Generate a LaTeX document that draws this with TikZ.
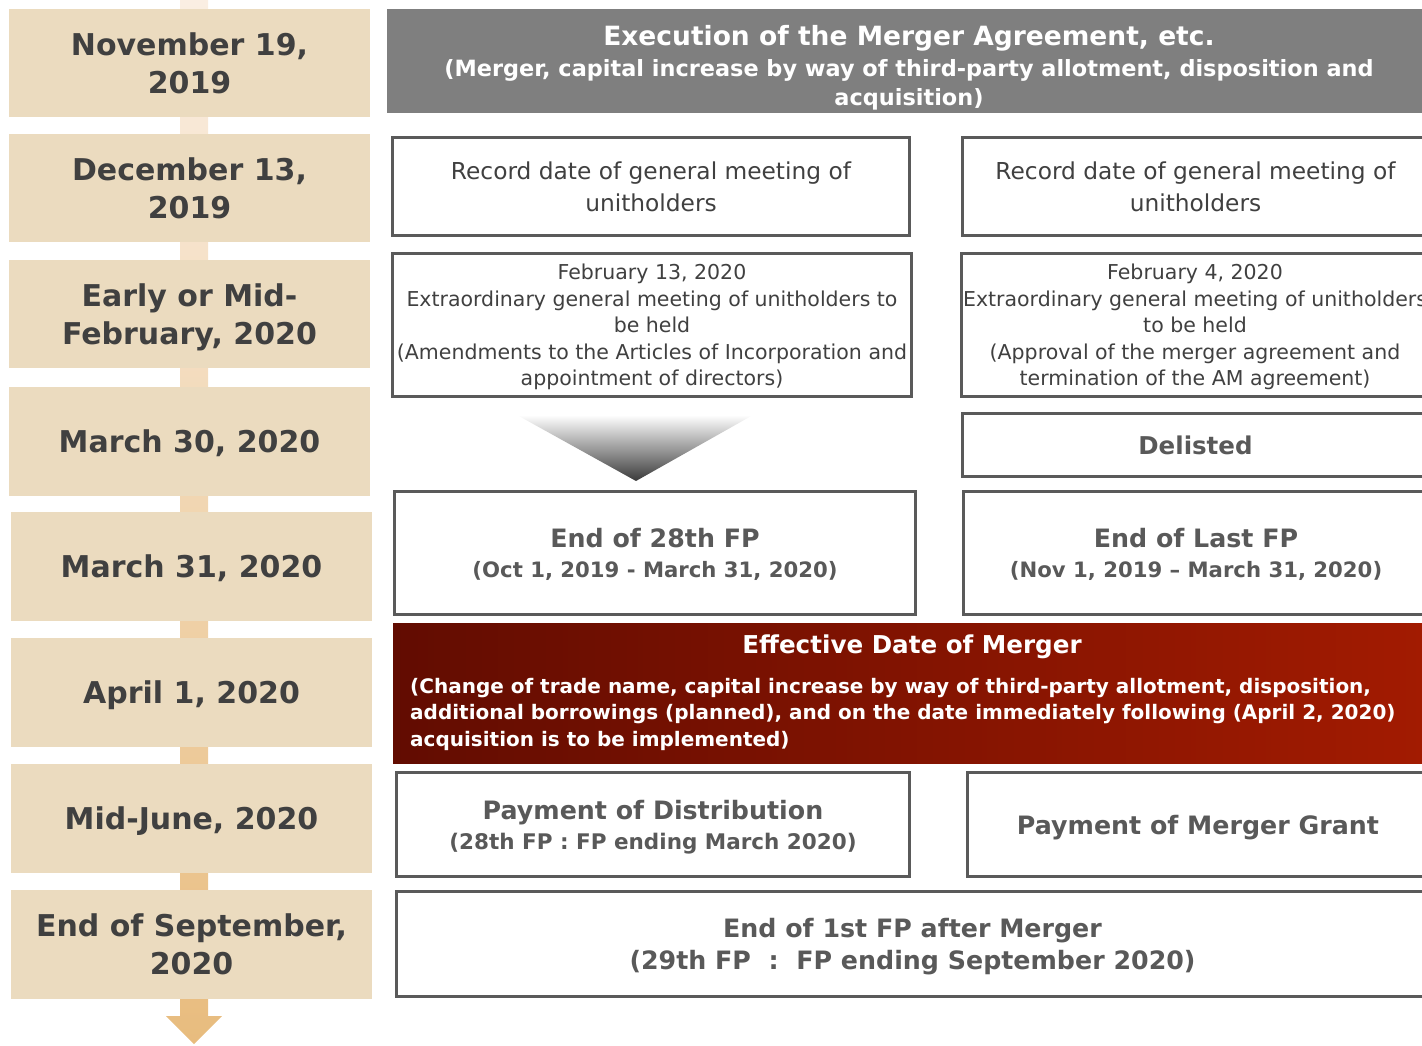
\documentclass[tikz,border=0pt]{standalone}
\usepackage{fontspec}
\setmainfont{DejaVu Sans}
\newcommand\setfs[2]{\fontsize{#1}{#2}\selectfont}

\definecolor{datefill}{HTML}{EBDBBF}
\definecolor{datetext}{HTML}{404040}
\definecolor{spinetop}{HTML}{FAEEE2}
\definecolor{spinebot}{HTML}{E8BC7E}
\definecolor{boxline}{HTML}{5A5A5A}
\definecolor{boxtext}{HTML}{404040}
\definecolor{boldtext}{HTML}{595959}
\definecolor{headgray}{HTML}{7F7F7F}
\definecolor{reddark}{HTML}{620C01}
\definecolor{redlight}{HTML}{A31B01}
\definecolor{tipdark}{HTML}{3A3A3A}

\begin{document}
\begin{tikzpicture}[x=1pt,y=-1pt,
  datebox/.style={fill=datefill,text=datetext,font=\bfseries\setfs{30}{38},
    align=center,inner sep=0pt,text depth=0pt,minimum width=361pt,minimum height=108pt},
  framebox/.style={draw=boxline,line width=2.6pt,fill=white,align=center,inner sep=0pt},
  plainlabel/.style={text=boxtext,font=\setfs{23.3}{32}},
  smalllabel/.style={text=boxtext,font=\setfs{20.5}{26.5},text depth=0pt},
  boldlabel/.style={text=boldtext,font=\bfseries\setfs{25.3}{30},text depth=0pt},
  whitelabel/.style={text=white,inner sep=0pt}
]
\useasboundingbox (0,0) rectangle (1422,1046);
\clip (0,0) rectangle (1422,1046);

% timeline spine with arrow head
\coordinate (spineTL) at (180,0);
\coordinate (spineTR) at (208,0);
\coordinate (spineTip) at (194,1044);
\shade[top color=spinetop,bottom color=spinebot]
  (spineTL) -- (spineTR) -- (208,1016) -- (222,1016) -- (spineTip)
  -- (166,1016) -- (180,1016) -- cycle;

% dates
\node[datebox] (d1) at (189.5,63) {November 19,\\2019};
\node[datebox] (d2) at (189.5,188) {December 13,\\2019};
\node[datebox] (d3) at (189.5,314) {Early or Mid-\\February, 2020};
\node[datebox,minimum height=109pt] (d4) at (189.5,441.5) {March 30, 2020};
\node[datebox,minimum height=109pt] (d5) at (191.5,566.5) {March 31, 2020};
\node[datebox,minimum height=109pt] (d6) at (191.5,692.5) {April 1, 2020};
\node[datebox,minimum height=109pt] (d7) at (191.5,818.5) {Mid-June, 2020};
\node[datebox,minimum height=109pt] (d8) at (191.5,944.5) {End of September,\\2020};

% execution of the agreement
\node[fill=headgray,inner sep=0pt,minimum width=1044pt,minimum height=104pt] (head) at (909,61) {};
\node[whitelabel,font=\bfseries\setfs{26.5}{30}] (headtitle) at (909,38.5)
  {Execution of the Merger Agreement, etc.};
\node[whitelabel,font=\bfseries\setfs{22.4}{29},align=center] (headsub) at (909,84.5)
  {(Merger, capital increase by way of third-party allotment, disposition and\\acquisition)};

% record dates
\node[framebox,plainlabel,minimum width=517pt,minimum height=98pt] (rec1) at (651,186.5)
  {Record date of general meeting of\\unitholders};
\node[framebox,plainlabel,minimum width=466pt,minimum height=98pt] (rec2) at (1195.5,186.5)
  {Record date of general meeting of\\unitholders};

% extraordinary general meetings
\node[framebox,smalllabel,minimum width=519pt,minimum height=143pt] (egm1) at (652,325)
  {February 13, 2020\\Extraordinary general meeting of unitholders to\\be held\\(Amendments to the Articles of Incorporation and\\appointment of directors)};
\node[framebox,smalllabel,minimum width=467pt,minimum height=143pt] (egm2) at (1195,325)
  {February 4, 2020\\Extraordinary general meeting of unitholders\\to be held\\(Approval of the merger agreement and\\termination of the AM agreement)};

% shaded down arrow
\coordinate (triL) at (517,415);
\coordinate (triR) at (753,415);
\coordinate (triTip) at (636,481);
\shade[top color=white,bottom color=tipdark] (triL) -- (triR) -- (triTip) -- cycle;

\node[framebox,boldlabel,font=\bfseries\setfs{24.5}{30},minimum width=466pt,minimum height=63pt] (del) at (1195.5,445) {Delisted};

% end of fiscal periods
\node[framebox,boldlabel,minimum width=521pt,minimum height=123pt] (fp28) at (655,553)
  {End of 28th FP\\{\setfs{21.2}{30}(Oct 1, 2019 - March 31, 2020)}};
\node[framebox,boldlabel,minimum width=465pt,minimum height=123pt] (fplast) at (1196,553)
  {End of Last FP\\{\setfs{21.2}{30}(Nov 1, 2019 – March 31, 2020)}};

% effective date
\node[left color=reddark,right color=redlight,inner sep=0pt,minimum width=1047pt,minimum height=140pt] (merge) at (916.5,693) {};
\node[whitelabel,font=\bfseries\setfs{24.6}{30}] (mergetitle) at (912,647) {Effective Date of Merger};
\node[whitelabel,font=\bfseries\setfs{20}{26.5},align=left,anchor=west] (mergebody) at (410,714)
  {(Change of trade name, capital increase by way of third-party allotment, disposition,\\additional borrowings (planned), and on the date immediately following (April 2, 2020)\\acquisition is to be implemented)};

% payments
\node[framebox,boldlabel,minimum width=513pt,minimum height=104pt] (pay1) at (653,824.5)
  {Payment of Distribution\\{\setfs{21.5}{29}(28th FP : FP ending March 2020)}};
\node[framebox,boldlabel,minimum width=461pt,minimum height=104pt] (pay2) at (1198,824.5)
  {Payment of Merger Grant};

% first period after the merger
\node[framebox,boldlabel,font=\bfseries\setfs{25.3}{32},minimum width=1032pt,minimum height=105pt] (fp1) at (912.5,944)
  {End of 1st FP after Merger\\(29th FP\ \ :\ \ FP ending September 2020)};
\end{tikzpicture}
\end{document}
